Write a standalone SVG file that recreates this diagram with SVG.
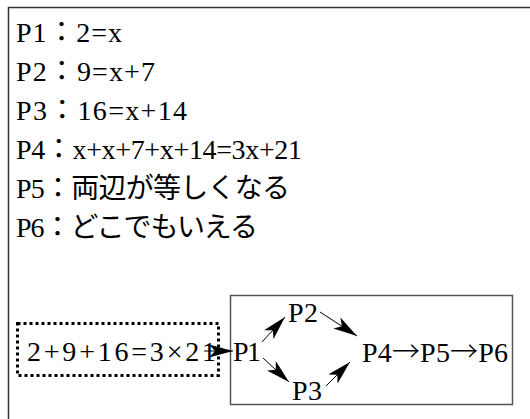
<svg xmlns="http://www.w3.org/2000/svg" width="530" height="419" viewBox="0 0 530 419">
<defs>
<style>
text{font-family:"Liberation Serif","Noto Sans CJK JP",serif;font-size:28px;fill:#000}
.cj{font-family:"Noto Sans CJK JP",sans-serif;font-weight:300}
.frame{fill:none;stroke:#333;stroke-width:1.5}
.box{fill:none;stroke:#555;stroke-width:1.5}
.dot{fill:none;stroke:#000;stroke-width:3;stroke-dasharray:3 3}
.arr{fill:none;stroke:#000;stroke-width:1;marker-end:url(#st)}
</style>
<marker id="st" markerUnits="userSpaceOnUse" markerWidth="26" markerHeight="14" refX="24" refY="6.5" orient="auto">
<path d="M24,6.5 L0,0 L6,6.5 L0,13 Z" fill="#000"/>
</marker>
</defs>
<rect width="530" height="419" fill="#fff"/>
<path class="frame" d="M8.5,420 V7.5 H531"/>
<g id="lines">
<text x="16" y="42" textLength="106">P1：2=x</text>
<text x="16" y="81" textLength="139">P2：9=x+7</text>
<text x="16" y="120" textLength="171">P3：16=x+14</text>
<text x="16" y="159" textLength="286">P4：x+x+7+x+14=3x+21</text>
<text x="16" y="198" textLength="274">P5：両辺が等しくなる</text>
<text x="16" y="237" textLength="242">P6：どこでもいえる</text>
</g>
<g id="sum">
<rect class="dot" x="17.5" y="323.5" width="201" height="52"/>
<text x="27" y="361" textLength="189">2+9+16=3×21</text>
</g>
<g id="flow">
<rect class="box" x="230.5" y="295.5" width="282" height="109"/>
</g>
<g id="p1"><text x="233" y="361" textLength="28">P1</text></g>
<g id="p2"><text x="288" y="322" textLength="30">P2</text></g>
<g id="p3"><text x="292" y="400" textLength="30">P3</text></g>
<g id="p456"><text x="362" y="362" textLength="146">P4<tspan class="cj">→</tspan>P5<tspan class="cj">→</tspan>P6</text></g>
<g id="connectors">
<line class="arr" x1="204" y1="351" x2="233" y2="351"/>
<line class="arr" x1="262" y1="342" x2="285" y2="317"/>
<line class="arr" x1="263" y1="358" x2="289" y2="382"/>
<line class="arr" x1="320" y1="312" x2="357" y2="336"/>
<line class="arr" x1="326" y1="386" x2="350" y2="362"/>
</g>
</svg>
